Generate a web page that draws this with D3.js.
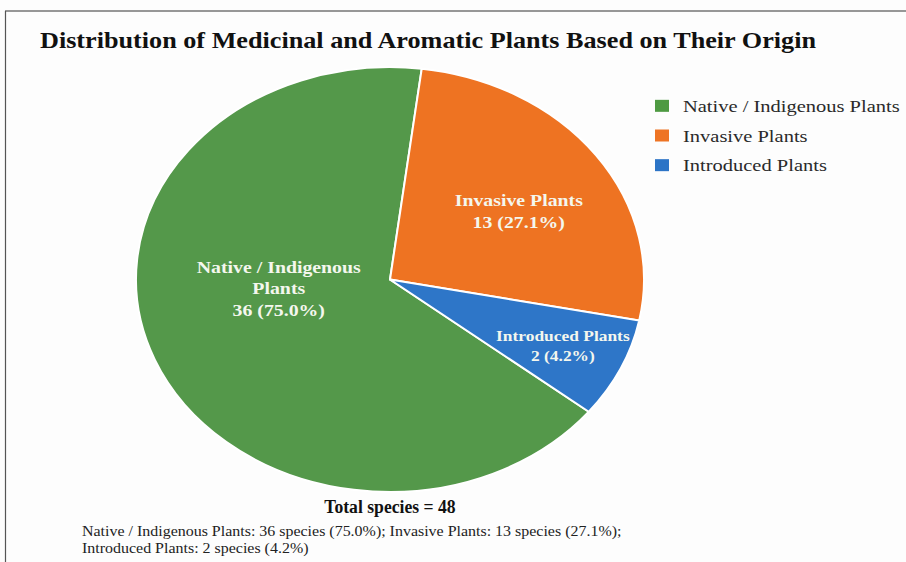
<!DOCTYPE html>
<html><head><meta charset="utf-8">
<script src="https://cdn.jsdelivr.net/npm/d3@7"></script>
<style>
html,body{margin:0;padding:0;background:#fff;}
svg{display:block;}
text{font-family:"Liberation Serif","Times New Roman",serif;}
</style></head>
<body>
<svg id="chart" width="906" height="562"></svg>
<script>
// ---- data ----
const categories = ["Native / Indigenous Plants", "Invasive Plants", "Introduced Plants"];
const counts = [36, 13, 2];
const percents = [75.0, 27.1, 4.2];
// slice sizes as drawn in the reference picture (share of the full circle, %)
const sliceShares = [66.3, 26.1, 7.6];
const colors = ["#54984a", "#ee7322", "#2e76c8"];
const legendColors = ["#4e9a42", "#ee7424", "#2c74c6"];
const totalSpecies = 48;
const sliceLabels = [["Native / Indigenous", "Plants", "36 (75.0%)"], ["Invasive Plants", "13 (27.1%)"], ["Introduced Plants", "2 (4.2%)"]];

const svg = d3.select("#chart");
svg.append("rect").attr("width", 906).attr("height", 562).attr("fill", "#fdfdfd");
// frame lines
svg.append("line").attr("x1", 5).attr("x2", 906).attr("y1", 11).attr("y2", 11).attr("stroke", "#333").attr("stroke-width", 1.2);
svg.append("line").attr("x1", 5.5).attr("x2", 5.5).attr("y1", 11).attr("y2", 562).attr("stroke", "#555").attr("stroke-width", 1.2);

// horizontal stretch of text (reference is stretched horizontally)
function stretch(sel, f) {
  const w = sel.node().getComputedTextLength();
  sel.attr("textLength", w * f).attr("lengthAdjust", "spacingAndGlyphs");
  return sel;
}
function fitText(sel, w) {
  sel.attr("textLength", w).attr("lengthAdjust", "spacingAndGlyphs");
}

// title
fitText(svg.append("text").attr("x", 40).attr("y", 48).attr("font-size", 23).attr("font-weight", "bold").attr("fill", "#111")
  .text("Distribution of Medicinal and Aromatic Plants Based on Their Origin"), 776);

// pie
const cx = 390, cy = 279.5, rx = 254, ry = 212.5;
const g = svg.append("g").attr("transform", `translate(${cx},${cy}) scale(${rx / ry},1)`);
const startA = 128.5 * Math.PI / 180;
const pie = d3.pie().sort(null).value(d => d).startAngle(startA).endAngle(startA + 2 * Math.PI);
const arcs = pie(sliceShares);
const arc = d3.arc().innerRadius(0).outerRadius(ry);
g.selectAll("path").data(arcs).join("path")
  .attr("d", arc)
  .attr("fill", (d, i) => colors[i])
  .attr("stroke", "#fff").attr("stroke-width", 2).attr("vector-effect", "non-scaling-stroke");

// slice labels
const labelRadius = [0.44, 0.6, 0.75];
const labelAngleShift = [16.5, 3.5, 0];
const labelSize = [16.5, 16.5, 14.5];
const lineGap = [21.5, 22, 20];
arcs.forEach((a, i) => {
  const mid = (a.startAngle + a.endAngle) / 2 + labelAngleShift[i] * Math.PI / 180;
  const lx = cx + Math.sin(mid) * rx * labelRadius[i];
  const ly = cy - Math.cos(mid) * ry * labelRadius[i];
  const lines = sliceLabels[i];
  const y0 = ly - (lines.length - 1) * lineGap[i] / 2;
  lines.forEach((t, k) => {
    stretch(svg.append("text").attr("x", lx).attr("y", y0 + k * lineGap[i]).attr("dy", "0.35em")
      .attr("text-anchor", "middle").attr("font-size", labelSize[i]).attr("font-weight", "bold")
      .attr("fill", "#f4f7ee").text(t), 1.2);
  });
});

// legend
const legY = d3.scaleBand().domain(categories).range([91, 180]).paddingInner(0);
categories.forEach((c, i) => {
  const y = legY(c) + legY.bandwidth() / 2;
  svg.append("rect").attr("x", 655).attr("y", y - 6).attr("width", 14).attr("height", 12).attr("fill", legendColors[i]);
  stretch(svg.append("text").attr("x", 683).attr("y", y).attr("dy", "0.35em").attr("font-size", 17.5)
    .attr("fill", "#2a2a2a").text(c), 1.17);
});

// total
stretch(svg.append("text").attr("x", 390).attr("y", 507).attr("dy", "0.35em").attr("text-anchor", "middle")
  .attr("font-size", 18).attr("font-weight", "bold").attr("fill", "#111").text(`Total species = ${totalSpecies}`), 0.98);

// footnote
const parts = categories.map((c, i) => `${c}: ${counts[i]} species (${percents[i].toFixed(1)}%)`);
stretch(svg.append("text").attr("x", 82).attr("y", 531).attr("dy", "0.35em").attr("font-size", 14).attr("fill", "#222")
  .text(parts[0] + "; " + parts[1] + ";"), 1.14);
stretch(svg.append("text").attr("x", 82).attr("y", 548).attr("dy", "0.35em").attr("font-size", 14).attr("fill", "#222")
  .text(parts[2]), 1.14);
</script>
</body></html>
